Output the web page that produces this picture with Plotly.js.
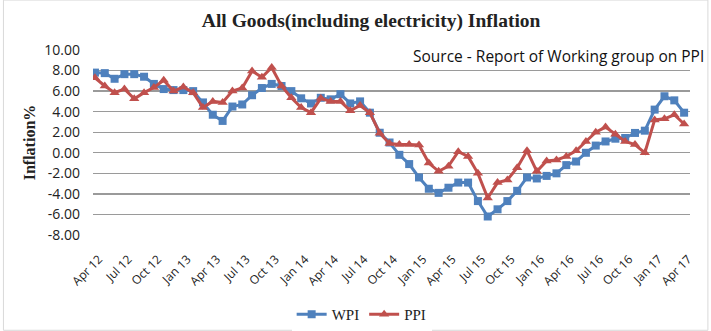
<!DOCTYPE html>
<html>
<head>
<meta charset="utf-8">
<script src="https://cdn.plot.ly/plotly-3.0.1.min.js"></script>
<style>html,body{margin:0;padding:0;background:#fff;}#chart{width:711px;height:331px;}</style>
</head>
<body>
<div id="chart"></div>
<script>
var months = ["Apr 12","May 12","Jun 12","Jul 12","Aug 12","Sep 12","Oct 12","Nov 12","Dec 12",
"Jan 13","Feb 13","Mar 13","Apr 13","May 13","Jun 13","Jul 13","Aug 13","Sep 13","Oct 13","Nov 13","Dec 13",
"Jan 14","Feb 14","Mar 14","Apr 14","May 14","Jun 14","Jul 14","Aug 14","Sep 14","Oct 14","Nov 14","Dec 14",
"Jan 15","Feb 15","Mar 15","Apr 15","May 15","Jun 15","Jul 15","Aug 15","Sep 15","Oct 15","Nov 15","Dec 15",
"Jan 16","Feb 16","Mar 16","Apr 16","May 16","Jun 16","Jul 16","Aug 16","Sep 16","Oct 16","Nov 16","Dec 16",
"Jan 17","Feb 17","Mar 17","Apr 17"];

var wpi = [7.8,7.75,7.2,7.65,7.65,7.4,6.7,6.2,6.1,
6.1,6.0,4.9,3.7,3.1,4.5,4.7,5.6,6.3,6.7,6.5,6.0,
5.3,4.8,5.35,5.2,5.7,4.8,5.0,3.9,1.95,1.0,-0.2,-1.1,
-2.4,-3.5,-3.9,-3.4,-2.9,-2.9,-4.7,-6.2,-5.5,-4.7,-3.7,-2.4,
-2.5,-2.25,-2.0,-1.2,-0.85,0.0,0.7,1.1,1.37,1.44,1.93,2.15,
4.2,5.5,5.1,3.9];

var ppi = [7.3,6.5,5.85,6.2,5.25,5.85,6.35,7.05,6.0,
6.4,5.85,4.4,5.0,4.9,6.0,6.3,7.95,7.35,8.3,6.5,5.35,
4.4,3.9,5.3,5.0,5.0,4.1,4.6,3.9,1.9,0.9,0.8,0.8,
0.75,-1.0,-1.8,-1.3,0.1,-0.35,-2.0,-4.4,-2.9,-2.65,-1.45,0.2,
-1.8,-0.8,-0.7,-0.35,0.2,1.1,2.0,2.5,1.8,1.1,0.8,0.0,
3.2,3.3,3.7,2.8];

var tickLabels = ["Apr 12","Jul 12","Oct 12","Jan 13","Apr 13","Jul 13","Oct 13","Jan 14","Apr 14","Jul 14",
"Oct 14","Jan 15","Apr 15","Jul 15","Oct 15","Jan 16","Apr 16","Jul 16","Oct 16","Jan 17","Apr 17"];

var yTicks = [10,8,6,4,2,0,-2,-4,-6,-8];

var traces = [
  {x: months, y: wpi, name: "WPI", type: "scatter", mode: "lines+markers",
   line: {color: "#4F81BD", width: 3}, marker: {symbol: "square", size: 8, color: "#4F81BD"}},
  {x: months, y: ppi, name: "PPI", type: "scatter", mode: "lines+markers",
   line: {color: "#C0504D", width: 3}, marker: {symbol: "triangle-up", size: 9, color: "#C0504D"}}
];

var layout = {
  width: 711, height: 331,
  margin: {l: 93, r: 21, t: 50, b: 96, autoexpand: false},
  paper_bgcolor: "#fff", plot_bgcolor: "#fff",
  showlegend: true,
  title: {text: "All Goods(including electricity) Inflation", x: 0.522, xanchor: "center", y: 0.94, yanchor: "middle",
          font: {family: "Liberation Serif, serif", size: 19.5, color: "#222", weight: "bold"}},
  xaxis: {type: "category", range: [-0.2, 60.6], tickvals: tickLabels, ticktext: tickLabels,
          tickangle: -45, showgrid: false, zeroline: false, showline: false, ticks: "", automargin: false,
          ticklabelstandoff: 14, ticklabelshift: 4,
          tickfont: {family: "Open Sans, sans-serif", size: 12, color: "#222"}},
  yaxis: {range: [-8, 10], tickvals: yTicks, ticktext: yTicks.map(function(v){return v.toFixed(2);}),
          showgrid: true, gridcolor: "#9a9a9a", gridwidth: 1.3, zeroline: false, showline: false, ticks: "",
          automargin: false, ticklabelstandoff: 12,
          tickfont: {family: "Open Sans, sans-serif", size: 14, color: "#222"},
          title: {text: "Inflation%", standoff: 4, font: {family: "Liberation Serif, serif", size: 16, color: "#222", weight: "bold"}}},
  legend: {orientation: "h", x: 0.45, xanchor: "center", y: -0.43, yanchor: "middle",
           font: {family: "Liberation Serif, serif", size: 15, color: "#222"}},
  annotations: [
    {text: "Source - Report of Working group on PPI", xref: "paper", yref: "paper", x: 1.027, xanchor: "right",
     y: 0.97, yanchor: "middle", showarrow: false, font: {family: "Open Sans, sans-serif", size: 15.5, color: "#111"}}
  ],
  shapes: [
    {type: "rect", xref: "paper", yref: "paper", x0: -0.15, x1: 1.03, y0: -0.515, y1: 1.27, line: {color: "#d9d9d9", width: 1}, layer: "below"}
  ]
};

Plotly.newPlot("chart", traces, layout, {displayModeBar: false, staticPlot: true});
</script>
</body>
</html>
